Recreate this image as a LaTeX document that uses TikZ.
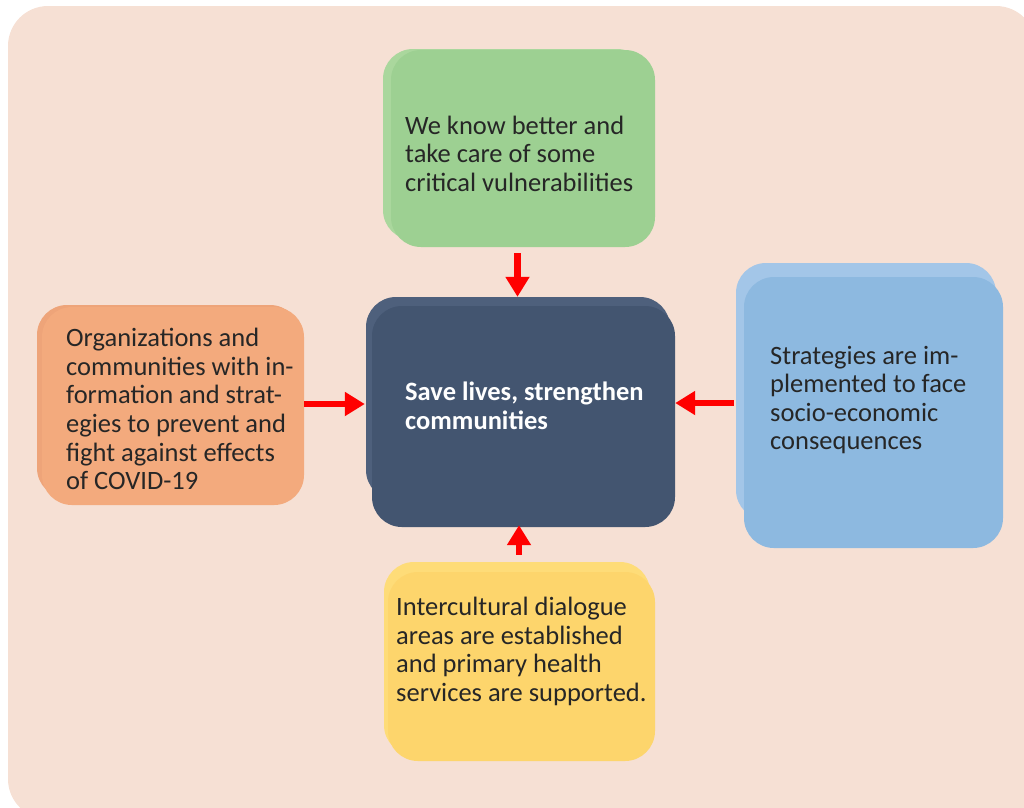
\documentclass[tikz,border=0pt]{standalone}
\usepackage{fontspec}
\setmainfont{Carlito}
\usetikzlibrary{arrows.meta}
\definecolor{bgc}{HTML}{F6E0D4}
\definecolor{greenF}{HTML}{9DD092}
\definecolor{greenB}{HTML}{AAD79D}
\definecolor{blueF}{HTML}{8DB9E0}
\definecolor{blueB}{HTML}{A3C6E8}
\definecolor{orangeF}{HTML}{F3AA7D}
\definecolor{orangeB}{HTML}{EEA479}
\definecolor{navyF}{HTML}{435570}
\definecolor{navyB}{HTML}{4E607C}
\definecolor{yellowF}{HTML}{FDD56C}
\definecolor{yellowB}{HTML}{FEDC78}
\definecolor{txt}{HTML}{262626}
\tikzset{
  box/.style={rectangle, rounded corners=30pt, draw=none, inner sep=0pt},
  backbox/.style={rounded corners=30pt},
  label/.style={anchor=west, align=left, inner sep=0pt, text=txt,
    font=\fontsize{26.5}{28.6}\selectfont},
  arr/.style={draw=red, line width=6.5pt, -{Triangle[width=23pt,length=20pt]}}
}
\begin{document}
\begin{tikzpicture}[x=1pt,y=-1pt]
\useasboundingbox (0,0) rectangle (1024,807);
\begin{scope}
\clip (0,0) rectangle (1024,807);
\fill[bgc, rounded corners=40pt] (8,6) rectangle (1036,819);
\end{scope}

% green
\fill[greenB, backbox] (383,49) rectangle (647,240);
\node[box, fill=greenF, minimum width=264pt, minimum height=197pt] (green) at (523,148.5) {};
\node[label] (greentext) at (405,153.5) {We know better and\\take care of some\\critical vulnerabilities};

% blue
\fill[blueB, backbox] (736,263) rectangle (996,520);
\node[box, fill=blueF, minimum width=259pt, minimum height=271pt] (blue) at (873.5,412.5) {};
\node[label] (bluetext) at (770,400) {Strategies are im-\\plemented to face\\socio-economic\\consequences};

% orange
\fill[orangeB, backbox] (37,305) rectangle (300,498);
\node[box, fill=orangeF, minimum width=262pt, minimum height=198pt] (orange) at (173,406) {};
\node[label] (orangetext) at (66,409) {Organizations and\\communities with in-\\formation and strat-\\egies to prevent and\\fight against effects\\of COVID-19};

% center
\fill[navyB, backbox] (366,297) rectangle (670,500);
\node[box, fill=navyF, minimum width=303pt, minimum height=221pt] (ctr) at (523.5,416.5) {};
\node[label, text=white, font=\fontsize{26.5}{28.6}\selectfont\bfseries] (ctrtext) at (405,406) {Save lives, strengthen\\communities};

% yellow
\fill[yellowB, backbox] (384,562) rectangle (650,755);
\node[box, fill=yellowF, minimum width=267pt, minimum height=189pt] (yellow) at (521.5,666.5) {};
\node[label] (yellowtext) at (396,651.5) {Intercultural dialogue\\areas are established\\and primary health\\services are supported.};

% arrows
\draw[arr] ([xshift=-5.5pt,yshift=-6pt]green.south) -- ([xshift=-6pt,yshift=9pt]ctr.north);
\draw[arr] ([yshift=2pt]orange.east) -- ([yshift=2pt,xshift=-7pt]orange.east -| ctr.west);
\draw[arr] ([xshift=-10pt,yshift=9.5pt]blue.west) -- ([yshift=9.5pt]blue.west -| ctr.east);
\draw[arr] ([xshift=-2.5pt,yshift=17pt]yellow.north) -- ([xshift=-4.5pt,yshift=2pt]ctr.south);
\end{tikzpicture}
\end{document}
